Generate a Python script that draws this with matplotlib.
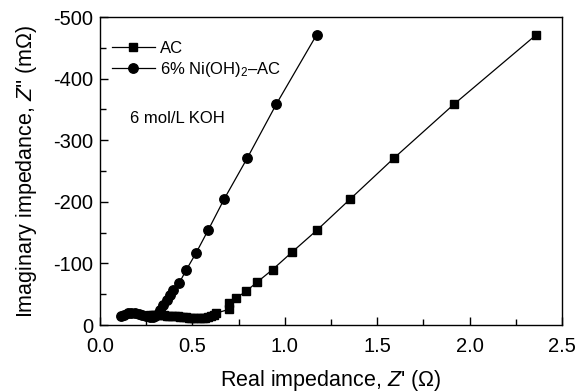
import matplotlib
matplotlib.use("Agg")
import matplotlib.pyplot as plt
from matplotlib.ticker import MultipleLocator, FormatStrFormatter

plt.rcParams['font.family'] = ['Liberation Sans', 'DejaVu Sans']
plt.rcParams['mathtext.fontset'] = 'custom'
plt.rcParams['mathtext.rm'] = 'Liberation Sans'
plt.rcParams['mathtext.it'] = 'Liberation Sans:italic'
plt.rcParams['axes.unicode_minus'] = False

# AC electrode: Z' in ohm, -Z'' in mOhm
ac_re = [0.27, 0.285, 0.30, 0.315, 0.33, 0.345, 0.36, 0.375, 0.39, 0.405, 0.42,
         0.435, 0.45, 0.465, 0.48, 0.495, 0.51, 0.525, 0.54, 0.555, 0.57, 0.585,
         0.60, 0.615, 0.63,
         0.70, 0.70, 0.738, 0.789, 0.852, 0.934, 1.038, 1.174, 1.354, 1.591, 1.914, 2.36]
ac_im = [17, 17, 17, 16.5, 16, 15.5, 15, 15, 14.5, 14, 14,
         13.5, 13, 12.5, 12, 11.5, 11, 11, 11, 11, 12, 13,
         15, 17, 19.5,
         25.5, 36, 44, 54.5, 70, 90, 118, 154, 204.5, 271, 358, 471]

# 6% Ni(OH)2-AC electrode
ni_re = [0.115, 0.13, 0.15, 0.17, 0.19, 0.21, 0.23, 0.25, 0.27, 0.285, 0.30,
         0.312, 0.325, 0.343, 0.361, 0.379, 0.397, 0.43, 0.468, 0.52, 0.587,
         0.673, 0.797, 0.955, 1.172]
ni_im = [14, 17, 19, 20, 19.5, 18, 16, 14, 13, 13.5, 15,
         18, 24, 32, 40.5, 49, 57, 69, 90, 117, 155,
         205, 271, 359, 471]

fig, ax = plt.subplots(figsize=(5.77, 3.92), dpi=100)
fig.subplots_adjust(left=0.1733, right=0.974, top=0.9566, bottom=0.1709)

ax.plot(ac_re, [-v for v in ac_im], "s-", color="black", lw=0.9, ms=6.3,
        label="AC")
ax.plot(ni_re, [-v for v in ni_im], "o-", color="black", lw=0.9, ms=6.8,
        label="6% Ni(OH)$_2$\u2013AC")

ax.set_xlim(0, 2.5)
ax.set_ylim(0, -500)
ax.xaxis.set_major_locator(MultipleLocator(0.5))
ax.xaxis.set_minor_locator(MultipleLocator(0.25))
ax.xaxis.set_major_formatter(FormatStrFormatter("%.1f"))
ax.yaxis.set_major_locator(MultipleLocator(100))
ax.yaxis.set_minor_locator(MultipleLocator(50))
ax.tick_params(which="both", direction="in", labelsize=14.5, width=1)
ax.tick_params(which="major", length=6)
ax.tick_params(which="minor", length=4)
ax.tick_params(axis="x", which="major", pad=8.5)
ax.tick_params(axis="y", which="major", pad=5)
for s in ax.spines.values():
    s.set_linewidth(1)

ax.set_xlabel("Real impedance, $Z$' (\u03a9)", fontsize=15.5, labelpad=9)
ax.set_ylabel("Imaginary impedance, $Z$'' (m\u03a9)", fontsize=15.5, labelpad=10)

ax.legend(loc="upper left", frameon=False, fontsize=12, numpoints=1,
          handlelength=2.6, handletextpad=0.3, borderaxespad=0.3,
          labelspacing=0.25, bbox_to_anchor=(0.0, 0.96))
ax.text(0.065, 0.67, "6 mol/L KOH", transform=ax.transAxes, fontsize=12,
        va="center")

plt.savefig("out.png", dpi=100)
plt.close()
